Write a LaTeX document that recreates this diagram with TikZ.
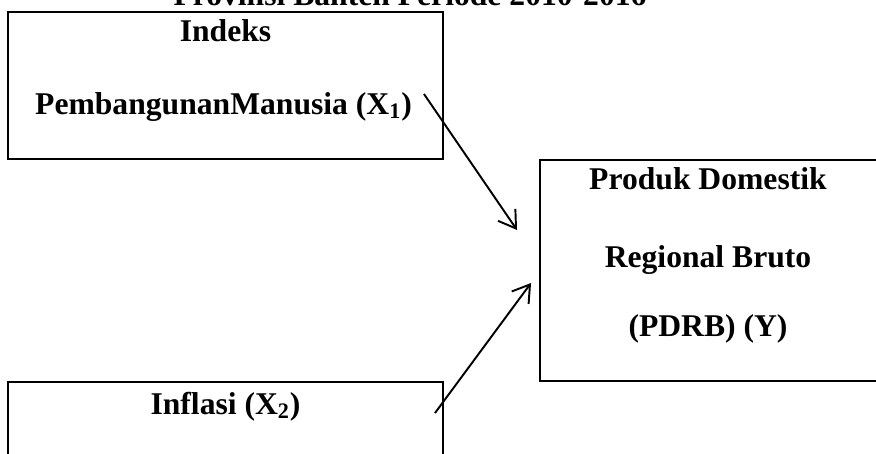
\documentclass[tikz,border=0pt]{standalone}
\usepackage{fontspec}
\setmainfont{Liberation Serif}
\usetikzlibrary{arrows.meta,positioning,calc}
\definecolor{Ink}{HTML}{000000}
\tikzset{
  kotak/.style={rectangle,draw=Ink,line width=1.1pt,inner sep=0pt},
  tks/.style={font=\fontsize{18}{22}\selectfont\bfseries,text=Ink,anchor=base,inner sep=0pt},
  panah/.style={draw=Ink,line width=1.1pt,-{Straight Barb[length=0.33cm,width=0.42cm,line width=1.1pt]}},
}
\begin{document}
\begin{tikzpicture}[x=1cm,y=1cm]
\useasboundingbox (0,0) rectangle (17.52,9.06);
% -title-
\node[tks] (judul) at (8.2,8.94) {Provinsi Banten Periode 2010-2016};
% -boxes-
\node[kotak,minimum width=8.7cm,minimum height=2.94cm] (ipm) at (4.51,7.35) {};
\node[kotak,minimum width=6.84cm,minimum height=4.42cm] (pdrb) at (14.22,3.65) {};
\node[kotak,minimum width=8.7cm,minimum height=2.8cm] (inf) at (4.51,0.02) {};
% -labels-
\node[tks] (ipmA) at ($(ipm.north)+(0,-0.6)$) {Indeks};
\node[tks] (ipmB) at ($(ipm.north)+(-0.04,-2.06)$) {PembangunanManusia (X\textsubscript{1})};
\node[tks] (pdrbA) at ($(pdrb.north)+(-0.06,-0.6)$) {Produk Domestik};
\node[tks] (pdrbB) at ($(pdrb.north)+(-0.06,-2.16)$) {Regional Bruto};
\node[tks] (pdrbC) at ($(pdrb.north)+(-0.06,-3.54)$) {(PDRB) (Y)};
\node[tks] (infA) at ($(inf.north)+(0,-0.66)$) {Inflasi (X\textsubscript{2})};
% -arrows-
\coordinate (a1s) at ($(ipm.east)+(-0.4,-0.17)$);
\coordinate (a1e) at ($(pdrb.west)+(-0.44,0.81)$);
\coordinate (a2s) at ($(inf.north east)+(-0.18,-0.64)$);
\coordinate (a2e) at ($(pdrb.west)+(-0.16,-0.25)$);
\draw[panah] (a1s) -- (a1e);
\draw[panah] (a2s) -- (a2e);
\end{tikzpicture}
\end{document}
